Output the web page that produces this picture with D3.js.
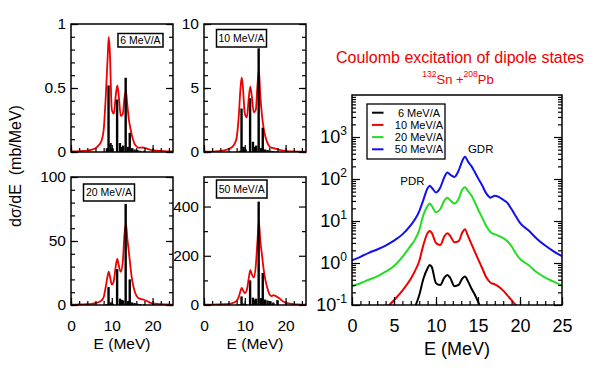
<!DOCTYPE html>
<html>
<head>
<meta charset="utf-8">
<script src="https://cdn.jsdelivr.net/npm/d3@7"></script>
<style>
  body { margin: 0; background: #fff; }
  svg { font-family: "Liberation Sans", Arial, Helvetica, sans-serif; }
</style>
</head>
<body>
<div id="viz"></div>
<script>
// excitation energy grid (MeV) shared by all strength curves
const energy = [0, 1, 2, 3, 4, 5, 6, 7, 7.5, 8, 8.5, 9, 9.25, 9.5, 10, 10.5, 11, 11.35, 11.7,
  12.2, 12.7, 13.1, 13.45, 13.8, 14.2, 14.6, 15, 15.5, 16, 16.5, 17, 17.5, 18, 18.5, 19, 19.5,
  20, 21, 22, 23, 24, 25];

// smoothed dsigma/dE (mb/MeV) for each beam energy
const curve6 = [0.004, 0.005, 0.006, 0.008, 0.011, 0.017, 0.03, 0.06, 0.09, 0.17, 0.42, 0.75,
  0.9, 0.8, 0.33, 0.3, 0.45, 0.52, 0.44, 0.28, 0.3, 0.42, 0.48, 0.37, 0.25, 0.18, 0.12, 0.07,
  0.045, 0.035, 0.034, 0.035, 0.033, 0.028, 0.022, 0.017, 0.014, 0.01, 0.008, 0.006, 0.005, 0.004];
const curve10 = [0.02, 0.025, 0.03, 0.045, 0.08, 0.13, 0.22, 0.42, 0.65, 1.1, 2.7, 5.2, 5.8,
  5.2, 3.0, 2.7, 4.3, 5.1, 4.4, 3.1, 3.3, 5.2, 6.4, 4.4, 2.9, 1.9, 1.25, 0.75, 0.45, 0.34, 0.31,
  0.27, 0.22, 0.17, 0.13, 0.1, 0.08, 0.055, 0.04, 0.03, 0.025, 0.02];
const curve20 = [0.28, 0.33, 0.4, 0.48, 0.62, 0.85, 1.4, 2.6, 3.6, 6, 14, 23, 26, 23, 16, 19,
  31, 36, 31, 26, 34, 55, 64, 52, 41, 29, 19, 12, 7.5, 5.4, 4.8, 4.4, 3.9, 3.3, 2.5, 1.7, 1.25,
  0.9, 0.6, 0.45, 0.36, 0.29];
const curve50 = [1.15, 1.4, 1.75, 2.1, 2.6, 3.4, 4.8, 8, 11, 17, 32, 60, 69, 62, 48, 62, 112,
  142, 126, 112, 160, 260, 340, 262, 205, 148, 105, 70, 45, 36, 40, 37, 32, 27, 19, 13, 9, 6,
  3.8, 2.6, 1.9, 1.45];

// discrete dipole transitions (MeV) and their cross sections
const barEnergy = [8.8, 9.2, 9.7, 10.2, 11.3, 12.0, 12.5, 12.8, 13.4, 14.0, 14.4, 15.0, 15.6, 16.3, 17.0, 18.0];
const bars6 = [0.03, 0.52, 0.07, 0.03, 0.41, 0.07, 0.04, 0.05, 0.58, 0.04, 0.15, 0.03, 0.02, 0.015, 0.01, 0.01];
const bars10 = [0.1, 3.4, 0.4, 0.2, 4.2, 0.8, 0.4, 0.5, 8.1, 0.3, 1.9, 0.2, 0.15, 0.1, 0.08, 0.05];
const bars20 = [0.8, 14, 2, 1, 28, 5, 4, 3.5, 79, 3, 20, 2, 1.5, 1, 0.8, 0.5];
const bars50 = [3, 35, 6, 4, 100, 30, 22, 26, 420, 28, 130, 22, 18, 15, 10, 20];

const beamLabels = ['6 MeV/A', '10 MeV/A', '20 MeV/A', '50 MeV/A'];
const smallXTicks = [0, 10, 20];
const bigXTicks = [0, 5, 10, 15, 20, 25];
const bigYDecades = [-1, 0, 1, 2, 3];

const red = '#ee0000';
const colours = ['#000000', red, '#22dd22', '#1010f0'];

const svg = d3.select('#viz')
  .append('svg')
  .attr('width', 599)
  .attr('height', 370);

const clean = g => g.select('.domain').remove();

const smallW = 102;
const smallH = 128;

const panels = [
  { id: 'p6', left: 71, top: 24, ymax: 1, yMajor: [0, 0.5, 1], yMinor: d3.range(0, 1.01, 0.1),
    curve: curve6, bars: bars6, label: beamLabels[0], box: [47, 9.5, 45, 13.5], xLabels: false },
  { id: 'p10', left: 204, top: 24, ymax: 10, yMajor: [0, 5, 10], yMinor: d3.range(0, 11, 1),
    curve: curve10, bars: bars10, label: beamLabels[1], box: [12.5, 5.5, 50, 17.5], xLabels: false },
  { id: 'p20', left: 71, top: 177, ymax: 100, yMajor: [0, 50, 100], yMinor: d3.range(0, 101, 10),
    curve: curve20, bars: bars20, label: beamLabels[2], box: [12.5, 7, 51, 17], xLabels: true },
  { id: 'p50', left: 204, top: 177, ymax: 520, yMajor: [0, 200, 400], yMinor: [100, 300, 500],
    curve: curve50, bars: bars50, label: beamLabels[3], box: [12.5, 3, 50.5, 18], xLabels: true },
];

const drawSmall = (p) => {
  const g = svg.append('g').attr('transform', `translate(${p.left},${p.top})`);
  const x = d3.scaleLinear().domain([0, 25]).range([0, smallW]);
  const y = d3.scaleLinear().domain([0, p.ymax]).range([smallH, 0]);

  g.append('clipPath').attr('id', `clip-${p.id}`)
    .append('rect').attr('width', smallW).attr('height', smallH);

  const line = d3.line()
    .x((d, i) => x(energy[i]))
    .y(d => y(d))
    .curve(d3.curveMonotoneX);

  g.append('path')
    .datum(p.curve)
    .attr('clip-path', `url(#clip-${p.id})`)
    .attr('d', line)
    .attr('fill', 'none')
    .attr('stroke', red)
    .attr('stroke-width', 1.8);

  g.append('g')
    .selectAll('line')
    .data(p.bars)
    .join('line')
    .attr('x1', (d, i) => x(barEnergy[i]))
    .attr('x2', (d, i) => x(barEnergy[i]))
    .attr('y1', y(0))
    .attr('y2', d => y(d))
    .attr('stroke', '#000')
    .attr('stroke-width', 2.4);

  // ticks point inwards
  g.append('g').attr('transform', `translate(0,${smallH})`)
    .call(d3.axisBottom(x).tickValues(d3.range(0, 25, 2)).tickSize(-4).tickFormat(''))
    .call(clean);
  g.append('g').attr('transform', `translate(0,${smallH})`)
    .call(d3.axisBottom(x).tickValues(smallXTicks).tickSize(-7).tickPadding(15)
      .tickFormat(p.xLabels ? d3.format('d') : ''))
    .call(clean);

  g.append('g')
    .call(d3.axisLeft(y).tickValues(p.yMinor).tickSize(-4).tickFormat(''))
    .call(clean);
  g.append('g')
    .call(d3.axisLeft(y).tickValues(p.yMajor).tickSize(-7).tickPadding(5).tickFormat(d3.format('~g')))
    .call(clean);
  g.append('g').attr('transform', `translate(${smallW},0)`)
    .call(d3.axisRight(y).tickValues(p.yMinor).tickSize(-4).tickFormat(''))
    .call(clean);
  g.append('g').attr('transform', `translate(${smallW},0)`)
    .call(d3.axisRight(y).tickValues(p.yMajor).tickSize(-7).tickFormat(''))
    .call(clean);

  g.selectAll('.tick line').attr('stroke-width', 1.2);
  g.selectAll('.tick text').attr('font-size', 15.5).attr('font-family', null).attr('fill', '#000');

  g.append('rect')
    .attr('width', smallW).attr('height', smallH)
    .attr('fill', 'none').attr('stroke', '#000').attr('stroke-width', 1.5);

  const [bx, by, bw, bh] = p.box;
  g.append('rect')
    .attr('x', bx).attr('y', by).attr('width', bw).attr('height', bh)
    .attr('fill', '#fff').attr('stroke', '#000').attr('stroke-width', 1.5);
  g.append('text')
    .attr('x', bx + bw / 2).attr('y', by + bh / 2 + 3.8)
    .attr('text-anchor', 'middle')
    .attr('font-size', 10.5)
    .text(p.label);
};

panels.forEach(drawSmall);

svg.append('text')
  .attr('transform', 'translate(21,166) rotate(-90)')
  .attr('text-anchor', 'middle')
  .attr('font-size', 16)
  .text('dσ/dE\u00a0 (mb/MeV)');

[122, 255].forEach(cx => svg.append('text')
  .attr('x', cx).attr('y', 349)
  .attr('text-anchor', 'middle')
  .attr('font-size', 15.5)
  .text('E (MeV)'));

// big log panel
const bigLeft = 352;
const bigTop = 95;
const bigW = 210;
const bigH = 210;
const big = svg.append('g').attr('transform', `translate(${bigLeft},${bigTop})`);
const bx = d3.scaleLinear().domain([0, 25]).range([0, bigW]);
const by = d3.scaleLog().domain([0.1, 1e4]).range([bigH, 0]);

big.append('clipPath').attr('id', 'clip-big')
  .append('rect').attr('width', bigW).attr('height', bigH);

const bigLine = d3.line()
  .x((d, i) => bx(energy[i]))
  .y(d => by(d))
  .curve(d3.curveMonotoneX);

[curve6, curve10, curve20, curve50].forEach((c, i) => {
  big.append('path')
    .datum(c)
    .attr('clip-path', 'url(#clip-big)')
    .attr('d', bigLine)
    .attr('fill', 'none')
    .attr('stroke', colours[i])
    .attr('stroke-width', 2);
});

const logMinor = [];
bigYDecades.forEach(e => d3.range(2, 10).forEach(k => logMinor.push(k * 10 ** e)));
const logMajor = bigYDecades.map(e => 10 ** e);

big.append('g').attr('transform', `translate(0,${bigH})`)
  .call(d3.axisBottom(bx).tickValues(d3.range(0, 26, 1)).tickSize(-4).tickFormat(''))
  .call(clean);
big.append('g').attr('transform', `translate(0,${bigH})`)
  .call(d3.axisBottom(bx).tickValues(bigXTicks).tickSize(-8).tickPadding(14).tickFormat(d3.format('d')))
  .call(clean);
big.append('g')
  .call(d3.axisLeft(by).tickValues(logMinor).tickSize(-4).tickFormat(''))
  .call(clean);
big.append('g')
  .call(d3.axisLeft(by).tickValues(logMajor).tickSize(-8).tickFormat(''))
  .call(clean);
big.append('g').attr('transform', `translate(${bigW},0)`)
  .call(d3.axisRight(by).tickValues(logMinor).tickSize(-4).tickFormat(''))
  .call(clean);
big.append('g').attr('transform', `translate(${bigW},0)`)
  .call(d3.axisRight(by).tickValues(logMajor).tickSize(-8).tickFormat(''))
  .call(clean);
big.selectAll('.tick line').attr('stroke-width', 1.2);
big.selectAll('.tick text').attr('font-size', 18).attr('font-family', null).attr('fill', '#000');

const yLab = big.append('g').selectAll('text')
  .data(bigYDecades)
  .join('text')
  .attr('x', -5)
  .attr('y', d => by(10 ** d) + 6)
  .attr('text-anchor', 'end')
  .attr('font-size', 18);
yLab.append('tspan').text('10');
yLab.append('tspan').attr('dy', -8).attr('font-size', 12).text(d => d);

big.append('rect')
  .attr('width', bigW).attr('height', bigH)
  .attr('fill', 'none').attr('stroke', '#000').attr('stroke-width', 1.5);

// legend
const legend = big.append('g').attr('transform', 'translate(15,9)');
legend.append('rect')
  .attr('width', 78).attr('height', 55)
  .attr('fill', '#fff').attr('stroke', '#000').attr('stroke-width', 1.3);
const rows = legend.selectAll('g.row')
  .data(beamLabels)
  .join('g')
  .attr('class', 'row')
  .attr('transform', (d, i) => `translate(0,${8.7 + i * 12.2})`);
rows.append('line')
  .attr('x1', 5).attr('x2', 16.5)
  .attr('stroke', (d, i) => colours[i])
  .attr('stroke-width', 2);
rows.append('text')
  .attr('x', 52).attr('y', 4)
  .attr('text-anchor', 'middle')
  .attr('font-size', 11)
  .text(d => d);

big.append('text').attr('x', bx(5.75)).attr('y', 90).attr('font-size', 11.5).text('PDR');
big.append('text').attr('x', bx(13.8)).attr('y', 57.5).attr('font-size', 11.5).text('GDR');

svg.append('text')
  .attr('x', 457).attr('y', 355)
  .attr('text-anchor', 'middle')
  .attr('font-size', 18)
  .text('E (MeV)');

// title
svg.append('text')
  .attr('x', 460).attr('y', 63)
  .attr('text-anchor', 'middle')
  .attr('font-size', 16)
  .attr('fill', red)
  .text('Coulomb excitation of dipole states');

const sub = svg.append('text')
  .attr('x', 458).attr('y', 84)
  .attr('text-anchor', 'middle')
  .attr('font-size', 13)
  .attr('fill', red);
sub.append('tspan').attr('font-size', 8.5).attr('dy', -7).text('132');
sub.append('tspan').attr('dy', 7).text('Sn +');
sub.append('tspan').attr('font-size', 8.5).attr('dy', -7).text('208');
sub.append('tspan').attr('dy', 7).text('Pb');
</script>
</body>
</html>
